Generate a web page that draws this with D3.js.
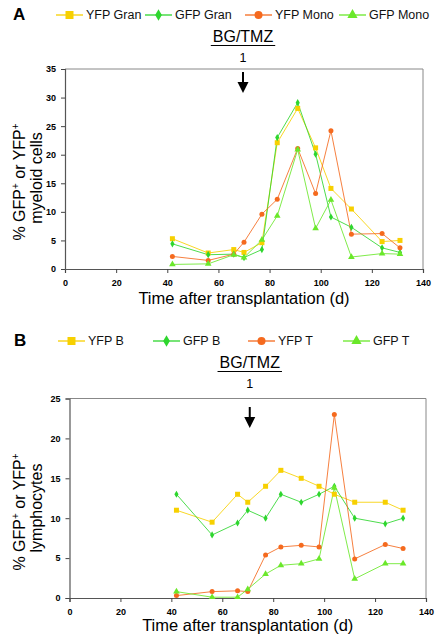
<!DOCTYPE html>
<html><head><meta charset="utf-8">
<script src="https://cdn.jsdelivr.net/npm/d3@7"></script>
<style>
html,body{margin:0;padding:0;background:#fff;}
svg{display:block;font-family:"Liberation Sans",Arial,Helvetica,sans-serif;}
</style></head>
<body>
<svg id="c" width="437" height="643"></svg>
<script>
// ---- data ----
const days = [42, 56, 66, 70, 77, 83, 91, 98, 104, 112, 124, 131];
const xTicks = [0, 20, 40, 60, 80, 100, 120, 140];

// Panel A (myeloid)
const yfpGran = [5.3, 2.8, 3.4, 2.9, 4.6, 22.1, 28.1, 21.2, 14.1, 10.5, 4.8, 5.0];
const gfpGran = [4.4, 2.5, 2.6, 2.0, 3.4, 23.0, 29.1, 20.1, 9.1, 7.3, 3.7, 2.9];
const yfpMono = [2.2, 1.5, 2.6, 4.7, 9.6, 12.2, 21.1, 13.2, 24.2, 6.1, 6.2, 3.7];
const gfpMono = [0.8, 0.9, 2.5, 2.0, 5.1, 9.3, 20.9, 7.1, 12.1, 2.1, 2.7, 2.6];
const yTicksA = [0, 5, 10, 15, 20, 25, 30, 35];

// Panel B (lymphocytes)
const yfpB = [11.0, 9.5, 13.0, 12.0, 14.0, 16.0, 15.0, 14.0, 13.0, 12.0, 12.0, 11.0];
const gfpB = [13.0, 7.9, 9.4, 11.0, 10.0, 13.0, 12.0, 13.0, 14.0, 10.0, 9.3, 10.0];
const yfpT = [0.3, 0.8, 0.9, 0.8, 5.4, 6.4, 6.6, 6.4, 23.0, 4.9, 6.7, 6.2];
const gfpT = [0.8, 0.1, 0.1, 1.1, 3.0, 4.1, 4.3, 4.9, 13.8, 2.4, 4.3, 4.3];
const yTicksB = [0, 5, 10, 15, 20, 25];

const treatmentDay = 70;
const treatmentLabel = "BG/TMZ";
const treatmentNum = "1";

// ---- drawing ----
const svg = d3.select("#c");
const colors = {yellow:"#F7D000", green:"#2ED62E", orange:"#F56A1E", lime:"#6AE82A"};

function marker(g, type, x, y, s, color) {
  if (type === "circle") {
    g.append("circle").attr("cx", x).attr("cy", y).attr("r", s/2).attr("fill", color);
  } else {
    const sym = {square:d3.symbolSquare, diamond:d3.symbolDiamond, triangle:d3.symbolTriangle}[type];
    const area = type === "square" ? s*s : type === "diamond" ? s*s*0.6 : s*s*0.45;
    g.append("path").attr("d", d3.symbol(sym, area)()).attr("transform", `translate(${x},${y})`).attr("fill", color);
  }
}

function panel(cfg) {
  const g = svg.append("g");
  const x = d3.scaleLinear().domain([0, 140]).range([cfg.x0, cfg.x1]);
  const y = d3.scaleLinear().domain([0, cfg.ymax]).range([cfg.y0, cfg.y1]);

  // panel letter
  g.append("text").attr("x", cfg.letterX).attr("y", cfg.letterY).text(cfg.letter)
    .attr("font-size", 17).attr("font-weight", "bold").attr("fill", "#000");

  // legend
  cfg.series.forEach((s, i) => {
    const lx = cfg.legendX[i], ly = cfg.legendY;
    g.append("line").attr("x1", lx).attr("x2", lx + 27).attr("y1", ly).attr("y2", ly)
      .attr("stroke", s.color).attr("stroke-width", 1.3);
    marker(g, s.type, lx + 13.5, ly, s.type === "triangle" ? 10 : 8, s.color);
    g.append("text").attr("x", lx + 30).attr("y", ly + 4.3).text(s.name)
      .attr("font-size", 12.5).attr("fill", "#111");
  });

  // treatment annotation
  const ax = x(treatmentDay) + cfg.arrowDx;
  const bt = g.append("text").attr("x", ax).attr("y", cfg.bgY).attr("text-anchor", "middle")
    .attr("font-size", 16).attr("fill", "#000").text(treatmentLabel);
  const bw = bt.node().getComputedTextLength();
  g.append("line").attr("x1", ax - bw/2 - 2).attr("x2", ax + bw/2 + 2)
    .attr("y1", cfg.bgY + 3.5).attr("y2", cfg.bgY + 3.5).attr("stroke", "#000").attr("stroke-width", 1);
  g.append("text").attr("x", ax).attr("y", cfg.bgY + 20).attr("text-anchor", "middle")
    .attr("font-size", 12.5).attr("fill", "#000").text(treatmentNum);
  g.append("line").attr("x1", ax).attr("x2", ax).attr("y1", cfg.arrowTop).attr("y2", cfg.arrowTop + 12)
    .attr("stroke", "#000").attr("stroke-width", 2);
  g.append("path").attr("d", `M${ax-5.5},${cfg.arrowTop+10} L${ax+5.5},${cfg.arrowTop+10} L${ax},${cfg.arrowTop+21} Z`)
    .attr("fill", "#000");

  // frame (top & right)
  g.append("path").attr("d", `M${cfg.x0},${cfg.y1} H${cfg.x1} V${cfg.y0}`)
    .attr("fill", "none").attr("stroke", "#888").attr("stroke-width", 1);

  // axes
  const xa = g.append("g").attr("transform", `translate(0,${cfg.y0})`)
    .call(d3.axisBottom(x).tickValues(xTicks).tickSize(4).tickPadding(7).tickFormat(d3.format("d")));
  const ya = g.append("g").attr("transform", `translate(${cfg.x0},0)`)
    .call(d3.axisLeft(y).tickValues(cfg.yTicks).tickSize(4).tickPadding(5).tickFormat(d3.format("d")));
  [xa, ya].forEach(a => {
    a.select(".domain").attr("stroke", "#555").attr("stroke-width", 1.2);
    a.selectAll(".tick line").attr("stroke", "#444");
    a.selectAll("text").attr("font-size", 9).attr("font-weight", "bold").attr("fill", "#000")
      .attr("font-family", "'Liberation Sans',Arial,sans-serif");
  });

  // axis titles
  g.append("text").attr("x", (cfg.x0 + cfg.x1)/2 + cfg.xtDx).attr("y", cfg.xtY).attr("text-anchor", "middle")
    .attr("font-size", 16.5).attr("fill", "#000").text("Time after transplantation (d)");
  const yt = g.append("text").attr("transform", `translate(${cfg.ytX},${cfg.ytCY}) rotate(-90)`)
    .attr("text-anchor", "middle").attr("font-size", 16).attr("fill", "#000");
  yt.append("tspan").attr("x", 0).attr("y", 0).text("% GFP");
  yt.append("tspan").attr("dy", -6).attr("font-size", 10).text("+");
  yt.append("tspan").attr("dy", 6).text(" or YFP");
  yt.append("tspan").attr("dy", -6).attr("font-size", 10).text("+");
  g.append("text").attr("transform", `translate(${cfg.ytX + 17},${cfg.ytCY - 4}) rotate(-90)`)
    .attr("text-anchor", "middle").attr("font-size", 16).attr("fill", "#000").text(cfg.ytitle2);

  // series
  const line = d3.line().x((d, i) => x(days[i])).y(d => y(d));
  cfg.series.forEach(s => {
    g.append("path").datum(s.values).attr("d", line).attr("fill", "none")
      .attr("stroke", s.color).attr("stroke-width", 1).attr("stroke-opacity", 0.85);
  });
  cfg.series.forEach(s => {
    const mg = g.append("g");
    s.values.forEach((v, i) => marker(mg, s.type, x(days[i]), y(v), s.type === "triangle" ? 6.5 : 5, s.color));
  });
}

panel({
  letter: "A", letterX: 13, letterY: 20,
  x0: 65, x1: 423, y0: 269, y1: 69, ymax: 35, yTicks: yTicksA,
  legendY: 15, legendX: [56, 145, 245, 339],
  bgY: 42, arrowTop: 72, arrowDx: -1,
  xtY: 304, xtDx: 0, ytX: 25, ytCY: 182, ytitle2: "myeloid cells",
  series: [
    {name: "YFP Gran", values: yfpGran, color: colors.yellow, type: "square"},
    {name: "GFP Gran", values: gfpGran, color: colors.green, type: "diamond"},
    {name: "YFP Mono", values: yfpMono, color: colors.orange, type: "circle"},
    {name: "GFP Mono", values: gfpMono, color: colors.lime, type: "triangle"}
  ]
});

panel({
  letter: "B", letterX: 14, letterY: 346,
  x0: 69.5, x1: 426, y0: 598, y1: 398.5, ymax: 25, yTicks: yTicksB,
  legendY: 341, legendX: [58, 153, 248, 343],
  bgY: 368, arrowTop: 407, arrowDx: 2,
  xtY: 631, xtDx: 0, ytX: 25, ytCY: 512, ytitle2: "lymphocytes",
  series: [
    {name: "YFP B", values: yfpB, color: colors.yellow, type: "square"},
    {name: "GFP B", values: gfpB, color: colors.green, type: "diamond"},
    {name: "YFP T", values: yfpT, color: colors.orange, type: "circle"},
    {name: "GFP T", values: gfpT, color: colors.lime, type: "triangle"}
  ]
});
</script>
</body></html>
